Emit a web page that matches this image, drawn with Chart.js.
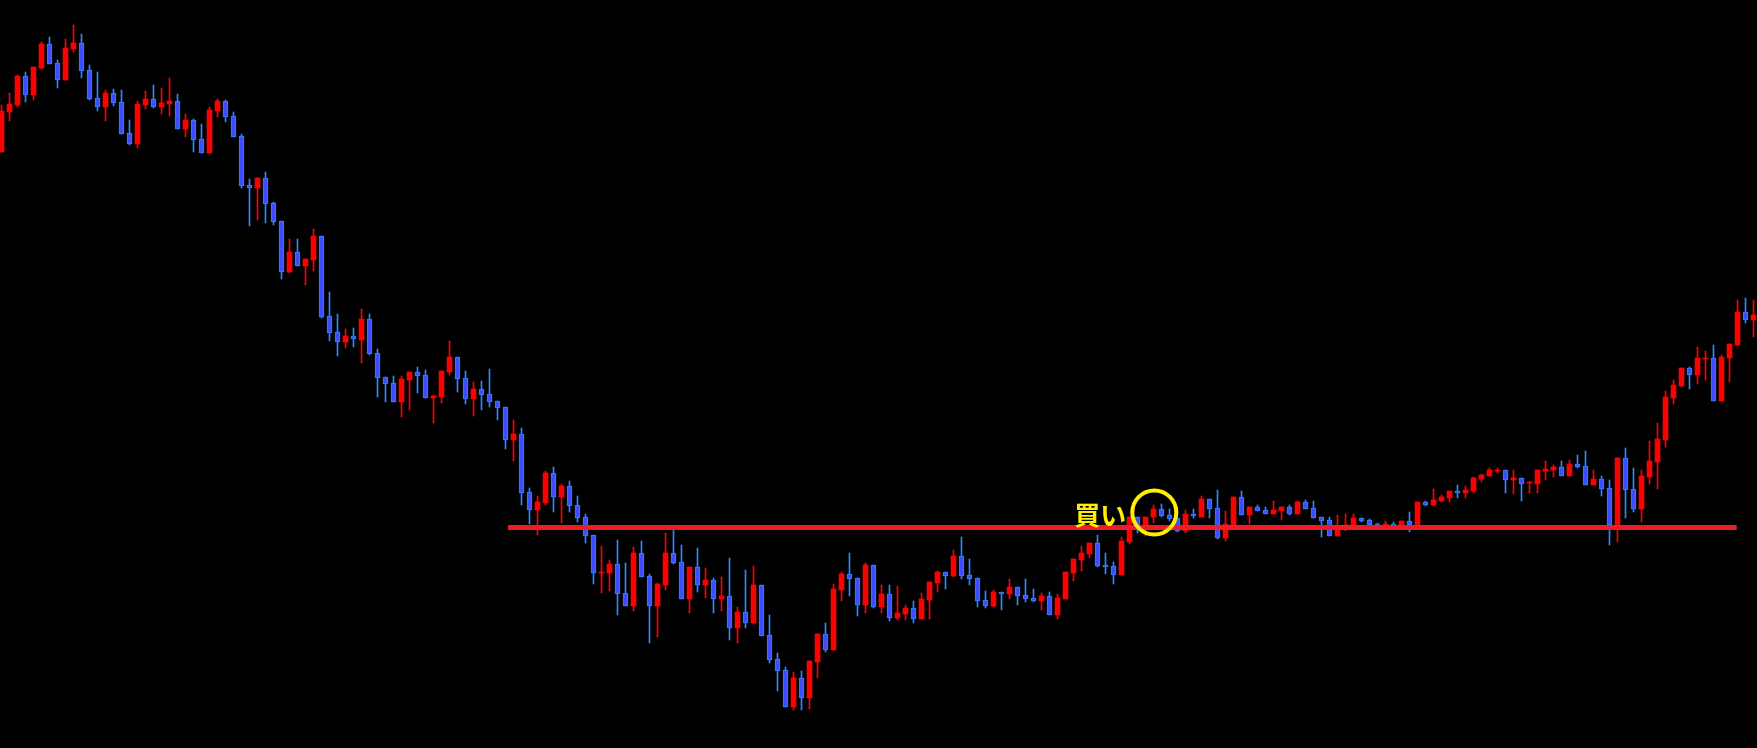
<!DOCTYPE html>
<html>
<head>
<meta charset="utf-8">
<script src="https://cdn.jsdelivr.net/npm/chart.js@4.4.1/dist/chart.umd.min.js"></script>
<style>
  html, body { margin: 0; padding: 0; background: #000; overflow: hidden; }
  canvas { display: block; }
</style>
</head>
<body>
<canvas id="priceChart" width="1757" height="748"></canvas>
<script>
const opens = [
  152,112,105,76,95,68,44,63,80,49, 43,70,98,107,93,102,133,144,105,99,
  107,104,101,129,120,139,153,111,101,116, 136,185,188,178,203,221,272,252,266,260,
  236,316,332,342,336,340,319,353,377,383, 402,380,372,375,398,397,372,357,378,399,
  389,394,401,407,440,434,492,510,503,473, 497,486,505,517,535,573,573,564,593,606,
  553,576,606,585,553,562,599,567,585,580, 599,596,628,612,623,585,635,659,670,707,
  678,698,662,634,650,590,574,578,605,565, 607,594,618,614,608,619,600,583,572,576,
  556,575,578,600,606,592,594,587,595,598, 601,596,615,599,573,560,554,543,565,566,
  575,542,517,526,517,509,515,518,531,514, 517,499,508,538,525,497,515,507,510,514,
  511,507,514,502,508,517,520,536,527,527, 518,520,524,526,524,526,521,526,502,505,
  501,498,491,493,491,479,476,471,470,480, 478,483,484,471,470,467,476,464,466,485,
  479,488,525,458,489,509,477,462,440,398, 386,368,375,359,358,401,358,345,312,320
];
const highs = [
  105,93,75,72,67,42,37,60,39,25, 34,65,72,90,89,90,120,101,91,85,
  88,78,94,114,119,124,107,99,100,112, 134,179,178,172,202,221,239,239,259,229,
  236,292,314,329,328,309,314,349,377,376, 376,372,367,370,395,371,341,357,371,382,
  381,369,401,407,420,428,488,496,471,467, 484,481,496,514,535,546,560,540,563,547,
  541,574,583,533,530,545,567,548,568,578, 577,558,607,570,566,585,615,653,667,672,
  671,661,634,623,584,572,553,578,563,565, 585,585,586,605,601,593,582,571,572,550,
  537,559,578,591,590,592,579,587,579,589, 593,592,594,572,559,546,543,535,553,562,
  537,517,517,517,505,504,509,518,510,509, 496,499,490,511,497,491,507,505,507,501,
  507,505,501,500,501,517,517,515,514,514, 518,519,523,521,522,521,512,502,501,489,
  495,491,485,486,477,474,468,468,470,470, 478,482,470,461,465,461,460,455,451,470,
  476,480,458,448,468,470,441,423,391,380, 368,367,347,351,345,355,344,300,298,300
];
const lows = [
  152,121,107,102,100,69,64,88,80,52, 78,100,111,121,106,134,145,148,109,108,
  114,116,129,137,152,153,153,117,122,137, 188,226,220,223,225,279,273,266,285,271,
  318,341,356,348,347,363,355,397,402,402, 417,410,393,398,423,403,375,392,404,416,
  410,407,420,449,461,505,524,535,505,512, 523,512,522,543,584,593,591,615,606,611,
  577,643,637,590,564,599,613,592,598,613, 611,640,643,628,624,636,663,691,707,710,
  710,709,678,652,650,601,596,616,613,608, 613,621,620,620,623,619,619,592,589,577,
  579,585,607,608,607,610,599,605,602,602, 610,615,619,599,581,571,558,567,574,584,
  575,544,533,536,523,517,521,532,533,518, 517,518,539,541,525,515,524,511,514,514,
  520,515,514,509,518,537,536,536,531,527, 522,526,527,527,527,527,532,526,506,506,
  502,502,498,498,493,482,476,473,493,494, 501,493,493,480,477,476,476,468,485,485,
  496,545,542,518,512,522,484,489,447,404, 387,389,384,380,401,401,382,345,323,337
];
const closes = [
  111,104,76,95,67,44,64,80,48,43, 71,99,107,93,103,134,144,104,99,107,
  103,101,129,120,140,153,110,101,117,137, 186,188,178,204,222,272,252,266,259,236,
  317,333,342,336,339,319,354,378,384,402, 379,372,376,398,396,371,357,379,399,389,
  395,402,408,440,434,493,510,502,473,497, 486,506,518,536,573,572,564,594,606,553,
  577,606,584,553,563,599,567,585,580,599, 596,628,612,623,585,636,660,671,707,678,
  698,661,634,650,589,574,579,605,565,607, 594,618,613,608,619,599,582,572,576,556,
  576,579,601,606,592,594,587,596,599,601, 596,615,598,572,559,553,543,566,567,575,
  541,517,526,517,509,516,519,531,514,516, 499,509,538,524,497,515,507,511,514,510,
  507,514,502,509,518,521,536,526,525,518, 521,525,526,524,526,521,525,502,505,500,
  497,491,493,490,478,475,470,470,480,478, 484,482,470,469,467,476,464,467,485,479,
  489,525,458,490,509,476,461,439,397,385, 368,375,358,358,401,357,344,312,320,315
];

// neckline and the buy mark
const necklineLevel = 527.5;
const necklineFrom = 63.3;
const necklineTo = 216.9;
const buyMark = { x: 144.1, y: 512.5 };
const buyLabel = { x: 140.6, y: 515, text: '買い' };

const UP = '#ff0000';
const DOWN_FILL = '#3c4cff';
const DOWN_EDGE = '#2f86ff';
const YELLOW = '#ffee00';

const idx = opens.map((_, i) => i);
const isUp = idx.map(i => closes[i] < opens[i]); // smaller depth = higher price

const labelPlugin = {
    id: 'buyLabel',
    afterDatasetsDraw(chart) {
        const ctx = chart.ctx;
        const px = chart.scales.x.getPixelForValue(buyLabel.x);
        const py = chart.scales.y.getPixelForValue(buyLabel.y);
        ctx.save();
        ctx.font = 'bold 26px "Noto Sans CJK JP"';
        ctx.fillStyle = YELLOW;
        ctx.textAlign = 'right';
        ctx.textBaseline = 'middle';
        ctx.fillText(buyLabel.text, px, py);
        ctx.restore();
    }
};

const ctx = document.getElementById('priceChart').getContext('2d');

new Chart(ctx, {
    type: 'bar',
    data: {
        datasets: [
            {
                type: 'line',
                data: [buyMark],
                showLine: false,
                pointRadius: 22,
                pointBorderWidth: 4,
                pointBorderColor: YELLOW,
                pointBackgroundColor: 'rgba(0,0,0,0)',
                order: 0
            },
            {
                type: 'line',
                data: [{ x: necklineFrom, y: necklineLevel }, { x: necklineTo, y: necklineLevel }],
                borderColor: '#ee1c24',
                borderWidth: 5,
                borderCapStyle: 'butt',
                pointRadius: 0,
                order: 1
            },
            {
                // candle bodies
                data: idx.map(i => ({ x: i, y: [opens[i], closes[i]] })),
                backgroundColor: idx.map(i => isUp[i] ? UP : DOWN_FILL),
                borderColor: idx.map(i => isUp[i] ? UP : DOWN_EDGE),
                borderWidth: idx.map(i => isUp[i] ? 0 : 1),
                borderSkipped: false,
                barThickness: 5,
                grouped: false,
                order: 2
            },
            {
                // wicks
                data: idx.map(i => ({ x: i, y: [lows[i], highs[i]] })),
                backgroundColor: idx.map(i => isUp[i] ? UP : DOWN_EDGE),
                borderWidth: 0,
                barThickness: 1,
                grouped: false,
                order: 3
            }
        ]
    },
    options: {
        responsive: false,
        animation: false,
        layout: { padding: 0, autoPadding: false },
        plugins: {
            legend: { display: false },
            tooltip: { enabled: false }
        },
        scales: {
            x: {
                type: 'linear',
                min: -0.1875,
                max: 219.4375,
                offset: false,
                display: false
            },
            y: {
                min: 0,
                max: 748,
                reverse: true,
                display: false
            }
        }
    },
    plugins: [labelPlugin]
});
</script>
</body>
</html>
